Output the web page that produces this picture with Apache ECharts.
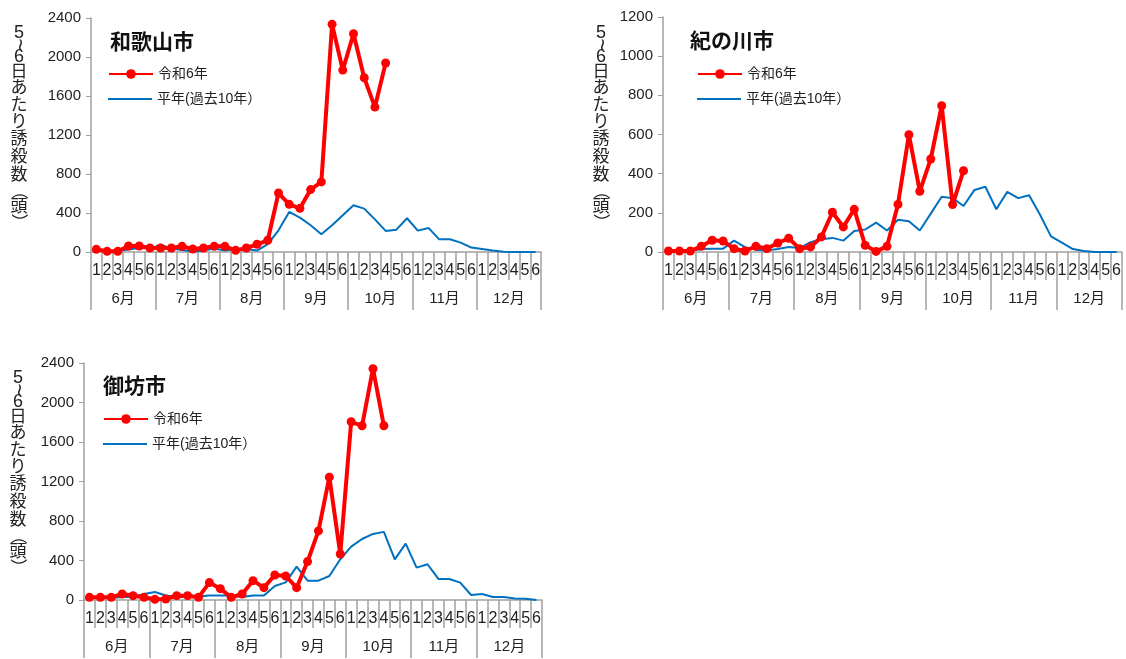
<!DOCTYPE html>
<html><head><meta charset="utf-8">
<script src="https://cdn.jsdelivr.net/npm/echarts@6/dist/echarts.min.js"></script>
<style>html,body{margin:0;padding:0;background:#fff}#c{width:1126px;height:659px}</style>
</head><body><div id="c"></div>
<script>
const months = ['6月','7月','8月','9月','10月','11月','12月'];
const pentads = ['1','2','3','4','5','6'];
const seriesNames = ['令和6年','平年(過去10年）'];
const titles = ['和歌山市','紀の川市','御坊市'];
const yLabel = '5~6日あたり誘殺数（頭）';
const yMax = [2400, 1200, 2400];
const yInterval = [400, 200, 400];

// 和歌山市
const wakayamaR6 = [27,7,7,62,62,41, 41,41,58,31,41,58, 58,17,41,79,120,605, 489,448,640,719,2335,1866, 2239,1787,1486,1938];
const wakayamaAvg = [12,10,12,25,40,35, 75,35,20,5,15,35, 15,30,30,15,80,222, 411,353,274,183,274,377, 479,445,335,216,229,346, 219,247,130,130,96,45, 30,15,2,0,0,0];
// 紀の川市
const kinokawaR6 = [5,5,5,29,60,56, 17,5,29,17,46,70, 17,26,77,203,128,218, 34,3,29,243,599,310, 475,747,242,415];
const kinokawaAvg = [0,0,5,15,17,17, 58,25,12,8,15,25, 20,50,65,72,58,107, 115,150,110,165,157,110, 196,282,275,235,317,333, 218,307,275,290,190,80, 48,15,5,0,0,0];
// 御坊市
const goboR6 = [27,27,27,61,44,27, 7,10,44,44,27,176, 115,27,61,196,125,253, 243,125,389,700,1244,466, 1805,1764,2342,1764];
const goboAvg = [20,20,20,30,30,61, 81,45,30,30,35,45, 45,45,30,45,45,142, 179,338,196,196,243,412, 541,618,669,690,412,571, 328,362,213,213,176,51, 60,30,30,15,12,0];

const redData = [wakayamaR6, kinokawaR6, goboR6];
const blueData = [wakayamaAvg, kinokawaAvg, goboAvg];

const pentadCats = [];
months.forEach(m => pentads.forEach(p => pentadCats.push(p)));

const FONT = '"Liberation Sans", "Noto Sans CJK JP", sans-serif';
const grids = [
  {left: 91, top: 18, width: 450, height: 234},
  {left: 663, top: 17, width: 459, height: 235},
  {left: 84, top: 363, width: 458, height: 237}
];
const titlePos = [[110, 41], [690, 40], [103, 385]];
const legendPos = [[103, 62], [692, 62], [98, 407]];
const yNamePos = [[19, 33], [601, 33], [18, 378]];
const yNameOffsets = [0, 12, 24, 38, 54, 71, 88, 105, 123, 141, 158, 173, 189];

const xAxes = [], yAxes = [], series = [], legends = [], graphics = [];
grids.forEach((g, i) => {
  xAxes.push({
    type: 'category', gridIndex: i, data: pentadCats, boundaryGap: true,
    axisLine: {lineStyle: {color: '#A0A0A0', width: 1.5}},
    axisTick: {show: true, interval: 0, length: 28, lineStyle: {color: '#A0A0A0', width: 1.5}},
    axisLabel: {interval: 0, margin: 11, fontSize: 16, color: '#222', fontFamily: FONT}
  });
  xAxes.push({
    type: 'category', gridIndex: i, data: months, boundaryGap: true, position: 'bottom',
    axisLine: {show: false},
    axisTick: {show: true, interval: 0, length: 58, lineStyle: {color: '#A0A0A0', width: 1.5}},
    axisLabel: {interval: 0, margin: 39, fontSize: 15, color: '#222', fontFamily: FONT}
  });
  yAxes.push({
    type: 'value', gridIndex: i, min: 0, max: yMax[i], interval: yInterval[i],
    splitLine: {show: false},
    axisLine: {show: true, lineStyle: {color: '#A0A0A0', width: 1.5}},
    axisTick: {show: true, length: 5, lineStyle: {color: '#A0A0A0'}},
    axisLabel: {fontSize: 15, color: '#222', margin: 10, fontFamily: FONT, formatter: v => String(v)}
  });
  series.push({
    name: seriesNames[1], type: 'line', xAxisIndex: i * 2, yAxisIndex: i,
    data: blueData[i], symbol: 'none', lineStyle: {color: '#0070C0', width: 2},
    itemStyle: {color: '#0070C0'}, z: 2, animation: false
  });
  series.push({
    name: seriesNames[0], type: 'line', xAxisIndex: i * 2, yAxisIndex: i,
    data: redData[i], symbol: 'circle', symbolSize: 9,
    lineStyle: {color: '#FF0000', width: 4}, itemStyle: {color: '#FF0000'}, z: 3, animation: false
  });
  legends.push({
    left: legendPos[i][0], top: legendPos[i][1], orient: 'vertical',
    itemWidth: 44, itemHeight: 12, selectedMode: false,
    textStyle: {fontSize: 14, color: '#222', fontFamily: FONT},
    data: [seriesNames[0]]
  });
  legends.push({
    left: legendPos[i][0], top: legendPos[i][1] + 25, orient: 'vertical',
    itemWidth: 44, itemHeight: 2, icon: 'rect', selectedMode: false,
    itemStyle: {color: '#0070C0'},
    textStyle: {fontSize: 14, color: '#222', fontFamily: FONT},
    data: [seriesNames[1]]
  });
  graphics.push({
    type: 'text', x: titlePos[i][0], y: titlePos[i][1],
    style: {text: titles[i], font: 'bold 21px "Noto Sans CJK JP", sans-serif', fill: '#111', verticalAlign: 'middle'}
  });
  // vertical axis name
  const chars = Array.from(yLabel);
  chars.forEach((ch, k) => {
    let t = ch, rot = 0, font = '17px "Noto Sans CJK JP", sans-serif';
    if (ch === '~') { rot = -Math.PI / 2; font = '22px "Liberation Sans", sans-serif'; }
    if (ch === '5' || ch === '6') { font = '18px "Liberation Sans", sans-serif'; }
    if (ch === '（' || ch === '）') { rot = -Math.PI / 2; }
    graphics.push({
      type: 'text', x: yNamePos[i][0], y: yNamePos[i][1] + yNameOffsets[k], rotation: rot,
      style: {text: t, font: font, fill: '#222', align: 'center', verticalAlign: 'middle'}
    });
  });
});

const chart = echarts.init(document.getElementById('c'));
chart.setOption({
  animation: false,
  backgroundColor: '#fff',
  grid: grids,
  xAxis: xAxes,
  yAxis: yAxes,
  legend: legends,
  series: series,
  graphic: graphics
});
</script></body></html>
